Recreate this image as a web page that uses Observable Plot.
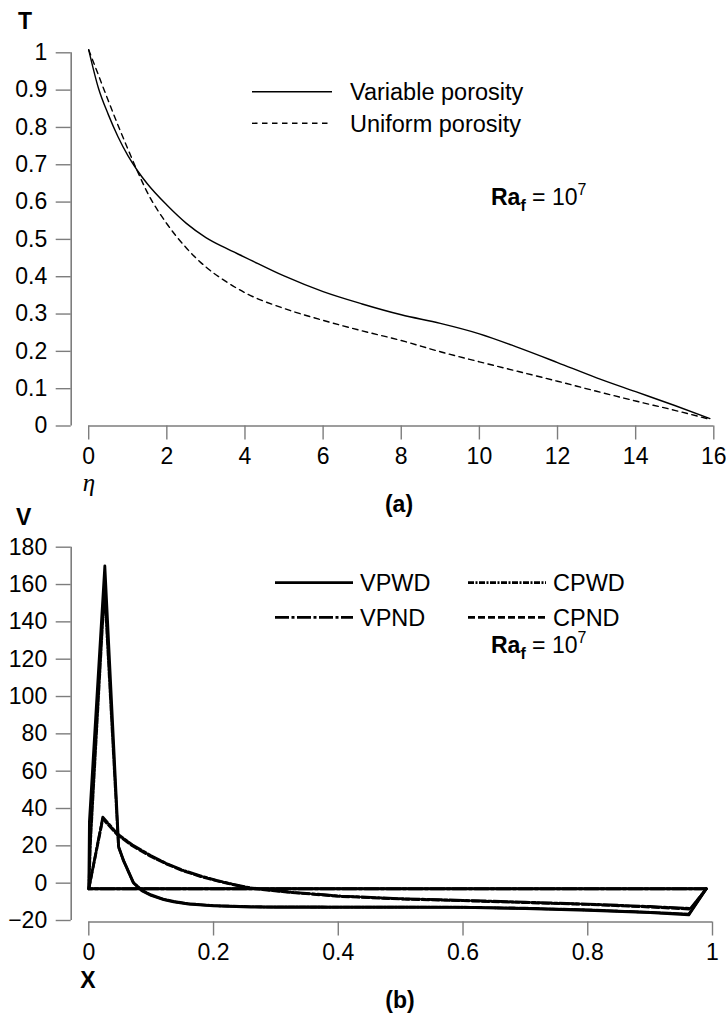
<!DOCTYPE html>
<html>
<head>
<meta charset="utf-8">
<script src="https://cdn.jsdelivr.net/npm/d3@7"></script>
<script src="https://cdn.jsdelivr.net/npm/@observablehq/plot@0.6"></script>
<style>
  html, body { margin: 0; padding: 0; background: #fff; }
  #wrap { position: relative; width: 726px; height: 1016px; overflow: hidden; background: #fff; }
  #wrap > div, #wrap > svg { position: absolute; left: 0; }
</style>
</head>
<body>
<div id="wrap">
  <div id="pa" style="top:0"></div>
  <div id="pb" style="top:470px"></div>
</div>
<script>
// ---------- Panel (a) data ----------
const etaGrid   = [0, 0.25, 0.5, 0.75, 1, 1.25, 1.5, 2, 2.5, 3, 3.5, 4, 5, 6, 7, 8, 9, 10, 11, 12, 13, 14, 15, 15.9];
const tVariable = [1.008, 0.905, 0.835, 0.775, 0.725, 0.684, 0.649, 0.592, 0.543, 0.505, 0.477, 0.452, 0.402, 0.36, 0.327, 0.298, 0.275, 0.247, 0.21, 0.17, 0.129, 0.092, 0.055, 0.02];
const tUniform  = [1.008, 0.94, 0.872, 0.806, 0.743, 0.682, 0.626, 0.542, 0.477, 0.426, 0.388, 0.357, 0.315, 0.283, 0.255, 0.229, 0.199, 0.172, 0.146, 0.12, 0.093, 0.067, 0.042, 0.018];
const tTicks    = [0, 0.1, 0.2, 0.3, 0.4, 0.5, 0.6, 0.7, 0.8, 0.9, 1];
const etaTicks  = [0, 2, 4, 6, 8, 10, 12, 14, 16];
const legendA   = ["Variable porosity", "Uniform porosity"];

// ---------- Panel (b) data ----------
const xVPWD = [0, 0.001, 0.0257, 0.048, 0.056, 0.072, 0.085, 0.1, 0.12, 0.136, 0.16, 0.2, 0.26, 0.3, 0.4, 0.5, 0.6, 0.7, 0.8, 0.9, 0.962, 0.99, 0];
const vVPWD = [-3, 33, 170, 19, 12, 0, -4, -6.6, -8.8, -10, -11.2, -12.2, -12.8, -12.9, -12.9, -12.9, -13, -13.6, -14.5, -15.8, -17, -3, -3];
const xCPWD = [0, 0.003, 0.0252, 0.0475, 0.055, 0.071, 0.085, 0.1, 0.12, 0.14, 0.16, 0.2, 0.26, 0.3, 0.4, 0.5, 0.6, 0.7, 0.8, 0.9, 0.962, 0.99];
const vCPWD = [-3, 24, 158, 20, 12.5, 0.5, -3.8, -6.3, -8.6, -10, -11, -12, -12.6, -12.7, -12.8, -12.8, -12.9, -13.4, -14.3, -15.6, -16.6, -3];
const xVPND = [0, 0.0225, 0.0455, 0.07, 0.099, 0.125, 0.152, 0.18, 0.206, 0.23, 0.259, 0.3235, 0.404, 0.5, 0.6, 0.7, 0.8, 0.9, 0.965, 0.99, 0];
const vVPND = [-3, 35.4, 26.5, 20.5, 14.8, 10.5, 6.8, 3.8, 1.4, -0.5, -2.5, -4.8, -6.9, -8.3, -9.2, -10.2, -11.2, -12.5, -13.5, -3, -3];
const xCPND = [0, 0.0225, 0.0455, 0.07, 0.099, 0.125, 0.152, 0.18, 0.206, 0.23, 0.259, 0.3235, 0.404, 0.5, 0.6, 0.7, 0.8, 0.9, 0.965, 0.99];
const vCPND = [-3, 34.5, 26, 20, 14.4, 10.2, 6.5, 3.5, 1.2, -0.7, -2.7, -5, -7.1, -8.5, -9.4, -10.4, -11.4, -12.8, -13.9, -3];
const vTicks = [-20, 0, 20, 40, 60, 80, 100, 120, 140, 160, 180];
const xTicks = [0, 0.2, 0.4, 0.6, 0.8, 1];
const legendB = ["VPWD", "CPWD", "VPND", "CPND"];

// ---------- styling ----------
const AX = "#7d7d7d";
const FONT = '"Liberation Sans", Arial, Helvetica, sans-serif';
const FS = 23;
const LW = 2.8;
const dashB = { VPWD: null, CPWD: "6,1.5,2,1.5", VPND: "14,2.5,3,2.5", CPND: "7,3" };
const fmtNum = d => d < 0 ? "\u2212" + String(-d) : String(d);

const zipA = (ys, name) => etaGrid.map((e, i) => ({ eta: e, T: ys[i], s: name }));
const zipB = (xs, vs, name) => xs.map((x, i) => ({ X: x, V: vs[i], s: name }));

// ---------- Panel (a) ----------
const HA = 470;
const plotA = Plot.plot({
  width: 726, height: HA,
  marginTop: 52.3, marginBottom: HA - 425.5, marginLeft: 70.7, marginRight: 12.7,
  x: { domain: [0, 16], range: [88.2, 713.3] },
  y: { domain: [0, 1], range: [425.5, 52.3] },
  style: { fontFamily: FONT, background: "transparent", color: "black", overflow: "visible" },
  marks: [
    Plot.ruleX([0], { y1: 0, y2: 1, dx: -17.5, stroke: AX, strokeWidth: 1.6 }),
    Plot.ruleY([0], { x1: 0, x2: 16, stroke: AX, strokeWidth: 1.6 }),
    Plot.axisY(tTicks, { anchor: "left", tickSize: 15, tickPadding: 9, stroke: AX, strokeWidth: 1.4, fill: "black", fontSize: FS, tickFormat: fmtNum, label: null }),
    Plot.axisX(etaTicks, { anchor: "bottom", tickSize: 14, tickPadding: 8, stroke: AX, strokeWidth: 1.4, fill: "black", fontSize: FS, tickFormat: fmtNum, label: null }),
    Plot.line(zipA(tUniform, "Uniform porosity"), { x: "eta", y: "T", stroke: "black", strokeWidth: 1.4, strokeDasharray: "5.5,4.5", curve: "monotone-x" }),
    Plot.line(zipA(tVariable, "Variable porosity"), { x: "eta", y: "T", stroke: "black", strokeWidth: 1.4, curve: "monotone-x" })
  ]
});
document.getElementById("pa").appendChild(plotA);

// ---------- Panel (b) ----------
const TOPB = 470, HB = 546;
const plotB = Plot.plot({
  width: 726, height: HB,
  marginTop: 546.7 - TOPB, marginBottom: HB - (920 - TOPB), marginLeft: 70.7, marginRight: 14,
  x: { domain: [0, 1], range: [88.3, 712] },
  y: { domain: [-20, 180], range: [920 - TOPB, 546.7 - TOPB] },
  style: { fontFamily: FONT, background: "transparent", color: "black", overflow: "visible" },
  marks: [
    Plot.ruleX([0], { y1: -20, y2: 180, dx: -17.6, stroke: AX, strokeWidth: 1.6 }),
    Plot.ruleY([-20], { x1: 0, x2: 1, dy: 1.5, stroke: AX, strokeWidth: 1.6 }),
    Plot.axisY(vTicks, { anchor: "left", tickSize: 15, tickPadding: 9, stroke: AX, strokeWidth: 1.4, fill: "black", fontSize: FS, tickFormat: fmtNum, label: null }),
    Plot.axisX(xTicks, { anchor: "bottom", tickSize: 14, tickPadding: 8, dy: 1.5, stroke: AX, strokeWidth: 1.4, fill: "black", fontSize: FS, tickFormat: fmtNum, label: null }),
    Plot.line(zipB(xCPND, vCPND, "CPND"), { x: "X", y: "V", stroke: "black", strokeWidth: LW, strokeDasharray: dashB.CPND }),
    Plot.line(zipB(xCPWD, vCPWD, "CPWD"), { x: "X", y: "V", stroke: "black", strokeWidth: LW, strokeDasharray: dashB.CPWD }),
    Plot.line(zipB(xVPND, vVPND, "VPND"), { x: "X", y: "V", stroke: "black", strokeWidth: LW, strokeDasharray: dashB.VPND }),
    Plot.line(zipB(xVPWD, vVPWD, "VPWD"), { x: "X", y: "V", stroke: "black", strokeWidth: LW })
  ]
});
document.getElementById("pb").appendChild(plotB);

// ---------- overlay: axis names, panel tags, legends, annotations ----------
const ov = d3.select("#wrap").append("svg")
  .attr("width", 726).attr("height", 1016)
  .style("top", "0px").style("pointer-events", "none")
  .style("font-family", FONT);

function label(x, y, txt, opts = {}) {
  return ov.append("text").attr("x", x).attr("y", y)
    .attr("font-size", opts.size || FS)
    .attr("font-weight", opts.bold ? "bold" : "normal")
    .attr("font-style", opts.italic ? "italic" : "normal")
    .attr("font-family", opts.family || FONT)
    .attr("text-anchor", opts.anchor || "start")
    .attr("fill", "black")
    .text(txt);
}
function raLabel(x, y) {
  const t = ov.append("text").attr("x", x).attr("y", y).attr("font-size", FS).attr("fill", "black");
  t.append("tspan").attr("font-weight", "bold").text("Ra");
  t.append("tspan").attr("font-weight", "bold").attr("font-size", 16).attr("dy", 6).text("f");
  t.append("tspan").attr("dy", -6).text(" = 10");
  t.append("tspan").attr("font-size", 16).attr("dy", -10).text("7");
}

// Panel (a)
label(18, 29, "T", { bold: true });
label(89, 491, "\u03B7", { italic: true, family: '"Liberation Serif", "DejaVu Serif", serif', size: 25, anchor: "middle" });
label(399, 512, "(a)", { bold: true, anchor: "middle" });
const legA = [{ y: 91.7, dash: null }, { y: 123.3, dash: "5.5,4.5" }];
legA.forEach((d, i) => {
  ov.append("line").attr("x1", 252).attr("x2", 332).attr("y1", d.y).attr("y2", d.y)
    .attr("stroke", "black").attr("stroke-width", 1.4).attr("stroke-dasharray", d.dash);
  label(350, d.y + 8.3, legendA[i], { size: 23.5 });
});
raLabel(491, 205);

// Panel (b)
label(16, 525, "V", { bold: true });
label(88, 988, "X", { bold: true, anchor: "middle" });
label(400, 1008, "(b)", { bold: true, anchor: "middle" });
const legPos = [
  { x: 275, y: 582.7 }, { x: 468, y: 582.7 },
  { x: 275, y: 617.3 }, { x: 468, y: 617.3 }
];
legendB.forEach((name, i) => {
  const p = legPos[i];
  ov.append("line").attr("x1", p.x).attr("x2", p.x + 78).attr("y1", p.y).attr("y2", p.y)
    .attr("stroke", "black").attr("stroke-width", LW).attr("stroke-dasharray", dashB[name]);
  label(p.x + 85, p.y + 8.3, name, { size: 23.5 });
});
raLabel(491, 653);
</script>
</body>
</html>
